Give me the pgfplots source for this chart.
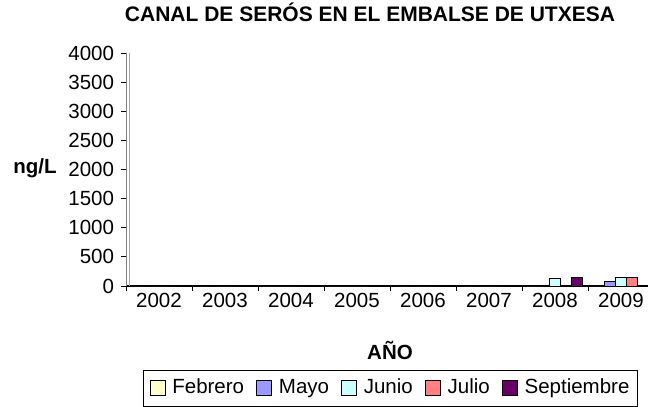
\documentclass[border=0pt]{standalone}
\usepackage{fontspec}
\setmainfont{Liberation Sans}
\usepackage{pgfplots}
\pgfplotsset{compat=1.18}

\definecolor{febrero}{RGB}{255,255,204}
\definecolor{mayo}{RGB}{153,153,255}
\definecolor{junio}{RGB}{204,255,255}
\definecolor{julio}{RGB}{255,128,128}
\definecolor{septiembre}{RGB}{102,0,102}

\pgfplotsset{
  sq legend/.style={legend image code/.code={
    \draw[##1,draw=black,line width=0.8pt] (0pt,-7.5pt) rectangle (15pt,7.5pt);}},
}

\begin{document}
\fontsize{20.5}{24}\selectfont
\begin{tikzpicture}[x=1pt,y=1pt]
\useasboundingbox (0,0) rectangle (648,407);
\begin{axis}[
    at={(126pt,121pt)}, anchor=south west,
    scale only axis,
    width=522pt, height=233pt,
    xmin=-0.5, xmax=7.41,
    ymin=0, ymax=4000,
    ybar=0pt, bar width=11pt,
    axis lines*=left,
    x axis line style={line width=2pt, black},
    y axis line style={gray, line width=0.8pt},
    tick align=outside,
    major tick length=5pt,
    tick style={black, line width=0.8pt},
    ytick={0,500,...,4000},
    xtick={-0.5,0.5,...,6.5},
    xticklabels={},
    extra x ticks={0,1,2,3,4,5,6,7},
    extra x tick labels={2002,2003,2004,2005,2006,2007,2008,2009},
    extra x tick style={major tick length=0pt},
    /pgf/number format/1000 sep={},
    /pgf/number format/assume math mode=true,
    legend columns=5,
    legend style={
        at={(0.5067,-0.4378)}, anchor=center,
        draw=black, line width=0.8pt,
        inner xsep=6pt, inner ysep=7pt,
        /tikz/every odd column/.append style={column sep=5pt},
        /tikz/every even column/.append style={column sep=10pt},
    },
]
\addplot[fill=febrero, draw=black, sq legend] coordinates {
    (0,0) (1,0) (2,0) (3,0) (4,0) (5,0) (6,0) (7,0)
};
\addlegendentry{Febrero}
\addplot[fill=mayo, draw=black, sq legend] coordinates {
    (0,0) (1,0) (2,0) (3,0) (4,0) (5,0) (6,0) (7,80)
};
\addlegendentry{Mayo}
\addplot[fill=junio, draw=black, sq legend] coordinates {
    (0,0) (1,0) (2,0) (3,0) (4,0) (5,0) (6,130) (7,150)
};
\addlegendentry{Junio}
\addplot[fill=julio, draw=black, sq legend] coordinates {
    (0,0) (1,0) (2,0) (3,0) (4,0) (5,0) (6,0) (7,150)
};
\addlegendentry{Julio}
\addplot[fill=septiembre, draw=black, sq legend] coordinates {
    (0,0) (1,0) (2,0) (3,0) (4,0) (5,0) (6,150)
};
\addlegendentry{Septiembre}
\draw[gray!70, line width=0.8pt] ([xshift=3pt]axis description cs:0,0) -- ([xshift=3pt]axis description cs:0,1);
\end{axis}
\node[font=\fontsize{21}{24}\selectfont\bfseries, anchor=base] at (370,385) {CANAL DE SERÓS EN EL EMBALSE DE UTXESA};
\node[font=\bfseries] at (35,239) {ng/L};
\node[font=\bfseries, anchor=base] at (390,47) {AÑO};
\end{tikzpicture}
\end{document}
